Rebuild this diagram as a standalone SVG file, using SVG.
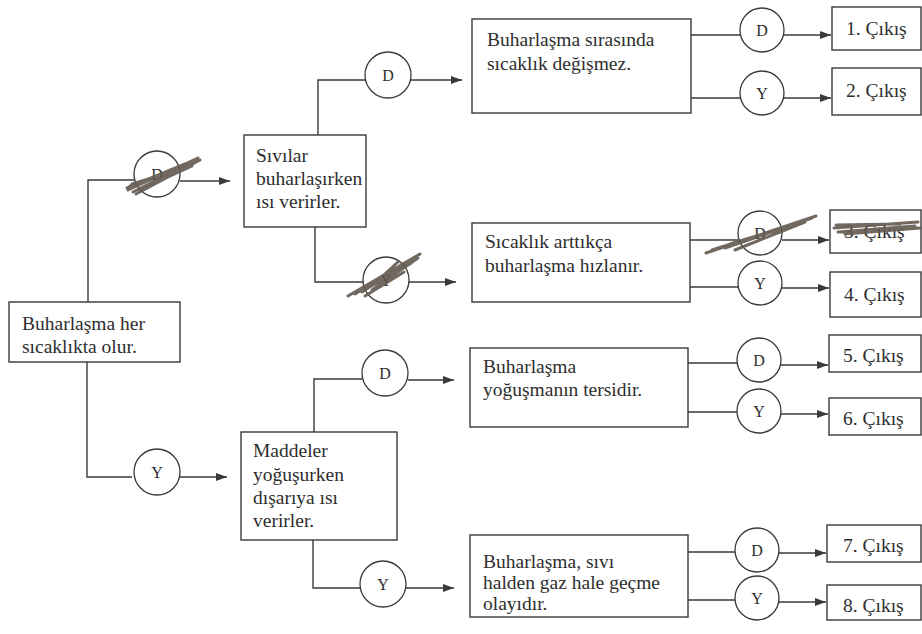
<svg xmlns="http://www.w3.org/2000/svg" width="922" height="634" viewBox="0 0 922 634">
<style>
.box{fill:#fff;stroke:#3a3a3a;stroke-width:1.4}
.ln{fill:none;stroke:#3a3a3a;stroke-width:1.4}
.arr{fill:none;stroke:#3a3a3a;stroke-width:1.4;marker-end:url(#ah)}
.cir{fill:#fff;stroke:#3a3a3a;stroke-width:1.3}
text{font-family:'Times New Roman','Liberation Serif','DejaVu Serif',serif;fill:#2e2e2e}
.t{font-size:19.5px}
.c{font-size:16px;text-anchor:middle}
.scr{fill:none;stroke:#62594f;stroke-width:3;stroke-linecap:round;opacity:0.9}
</style>
<defs>
<marker id="ah" markerWidth="12" markerHeight="10" refX="11" refY="5" orient="auto" markerUnits="userSpaceOnUse">
<path d="M0,1 L11,5 L0,9 Z" fill="#3a3a3a"/>
</marker>
</defs>
<rect width="922" height="634" fill="#fff"/>

<g id="connectors">
<path class="ln" d="M88,302 V180 H134"/>
<path class="arr" d="M180,181 H230"/>
<path class="ln" d="M87,362 V477 H132"/>
<path class="arr" d="M178,477 H227"/>
<path class="ln" d="M318,135 V80 H366"/>
<path class="arr" d="M410,80 H462"/>
<path class="ln" d="M315,227 V282 H363"/>
<path class="arr" d="M409,282 H456"/>
<path class="ln" d="M314,432 V379 H362"/>
<path class="arr" d="M408,380 H454"/>
<path class="ln" d="M313,540 V588 H360"/>
<path class="arr" d="M406,588 H454"/>
<path class="ln" d="M691,35 H740"/>
<path class="arr" d="M784,35 H831"/>
<path class="ln" d="M691,98 H740"/>
<path class="arr" d="M784,98 H831"/>
<path class="ln" d="M690,240 H738"/>
<path class="arr" d="M782,240 H829"/>
<path class="ln" d="M690,287 H738"/>
<path class="arr" d="M782,288 H829"/>
<path class="ln" d="M688,363 H737"/>
<path class="arr" d="M781,365 H828"/>
<path class="ln" d="M688,412 H737"/>
<path class="arr" d="M781,414 H828"/>
<path class="ln" d="M688,552 H735"/>
<path class="arr" d="M779,553 H826"/>
<path class="ln" d="M688,600 H735"/>
<path class="arr" d="M779,602 H826"/>
</g>

<g id="c1">
<circle class="cir" cx="157" cy="174" r="23"/>
<text class="c" x="157" y="180">D</text>
<path class="scr" d="M128,190 L198,158 M130,186 L196,161 M133,192 L190,163 M127,188 L185,164 M136,194 L200,160 M132,184 L178,170 M140,190 L192,166"/>
</g>
<g id="c2">
<circle class="cir" cx="157" cy="472" r="23"/>
<text class="c" x="157" y="478">Y</text>
</g>
<g id="c3">
<circle class="cir" cx="388" cy="75" r="23"/>
<text class="c" x="388" y="81">D</text>
</g>
<g id="c4">
<circle class="cir" cx="386" cy="280" r="23"/>
<text class="c" x="386" y="286">Y</text>
<path class="scr" d="M348,296 L420,254 M355,294 L414,258 M362,292 L408,262 M372,290 L418,258 M365,296 L404,272 M376,282 L398,262 M368,288 L410,264"/>
</g>
<g id="c5">
<circle class="cir" cx="385" cy="373" r="23"/>
<text class="c" x="385" y="379">D</text>
</g>
<g id="c6">
<circle class="cir" cx="383" cy="584" r="23"/>
<text class="c" x="383" y="590">Y</text>
</g>
<g id="c7">
<circle class="cir" cx="762" cy="30" r="22"/>
<text class="c" x="762" y="36">D</text>
</g>
<g id="c8">
<circle class="cir" cx="762" cy="93" r="22"/>
<text class="c" x="762" y="99">Y</text>
</g>
<g id="c9">
<circle class="cir" cx="760" cy="233" r="22"/>
<text class="c" x="760" y="239">D</text>
<path class="scr" d="M706,253 L816,216 M712,250 L800,222 M725,248 L812,218 M735,250 L790,228 M745,246 L805,222 M740,242 L770,232 M730,244 L795,224"/>
</g>
<g id="c10">
<circle class="cir" cx="760" cy="283" r="22"/>
<text class="c" x="760" y="289">Y</text>
</g>
<g id="c11">
<circle class="cir" cx="759" cy="360" r="22"/>
<text class="c" x="759" y="366">D</text>
</g>
<g id="c12">
<circle class="cir" cx="759" cy="411" r="22"/>
<text class="c" x="759" y="417">Y</text>
</g>
<g id="c13">
<circle class="cir" cx="757" cy="550" r="22"/>
<text class="c" x="757" y="556">D</text>
</g>
<g id="c14">
<circle class="cir" cx="757" cy="598" r="22"/>
<text class="c" x="757" y="604">Y</text>
</g>

<g id="root">
<rect class="box" x="9" y="302" width="171" height="60"/>
<text class="t" x="22" y="330">Buharlaşma her</text>
<text class="t" x="22" y="353">sıcaklıkta olur.</text>
</g>
<g id="n_sivilar">
<rect class="box" x="244" y="135" width="122" height="92"/>
<text class="t" x="256" y="162">Sıvılar</text>
<text class="t" x="256" y="185">buharlaşırken</text>
<text class="t" x="256" y="208">ısı verirler.</text>
</g>
<g id="n_maddeler">
<rect class="box" x="241" y="432" width="156" height="108"/>
<text class="t" x="253" y="457">Maddeler</text>
<text class="t" x="253" y="481">yoğuşurken</text>
<text class="t" x="253" y="504">dışarıya ısı</text>
<text class="t" x="253" y="527">verirler.</text>
</g>
<g id="n_a">
<rect class="box" x="472" y="19" width="219" height="94"/>
<text class="t" x="487" y="46">Buharlaşma sırasında</text>
<text class="t" x="487" y="70">sıcaklık değişmez.</text>
</g>
<g id="n_b">
<rect class="box" x="472" y="223" width="218" height="79"/>
<text class="t" x="485" y="248">Sıcaklık arttıkça</text>
<text class="t" x="485" y="272">buharlaşma hızlanır.</text>
</g>
<g id="n_c">
<rect class="box" x="470" y="348" width="218" height="79"/>
<text class="t" x="483" y="373">Buharlaşma</text>
<text class="t" x="483" y="396">yoğuşmanın tersidir.</text>
</g>
<g id="n_d">
<rect class="box" x="470" y="535" width="218" height="82"/>
<text class="t" x="483" y="568">Buharlaşma, sıvı</text>
<text class="t" x="483" y="589">halden gaz hale geçme</text>
<text class="t" x="483" y="610">olayıdır.</text>
</g>

<g id="exit1"><rect class="box" x="832" y="7" width="89" height="43"/><text class="t" x="846" y="35">1. Çıkış</text></g>
<g id="exit2"><rect class="box" x="832" y="68" width="89" height="47"/><text class="t" x="846" y="97">2. Çıkış</text></g>
<g id="exit3"><rect class="box" x="830" y="210" width="91" height="43"/><text class="t" x="844" y="238">3. Çıkış</text>
<path class="scr" d="M834,228 L918,222 M838,232 L915,226 M836,225 L900,224 M845,234 L920,228"/></g>
<g id="exit4"><rect class="box" x="830" y="272" width="91" height="45"/><text class="t" x="844" y="301">4. Çıkış</text></g>
<g id="exit5"><rect class="box" x="829" y="335" width="92" height="37"/><text class="t" x="843" y="362">5. Çıkış</text></g>
<g id="exit6"><rect class="box" x="829" y="398" width="92" height="37"/><text class="t" x="843" y="425">6. Çıkış</text></g>
<g id="exit7"><rect class="box" x="827" y="525" width="94" height="37"/><text class="t" x="843" y="552">7. Çıkış</text></g>
<g id="exit8"><rect class="box" x="827" y="585" width="94" height="35"/><text class="t" x="843" y="612">8. Çıkış</text></g>
</svg>
